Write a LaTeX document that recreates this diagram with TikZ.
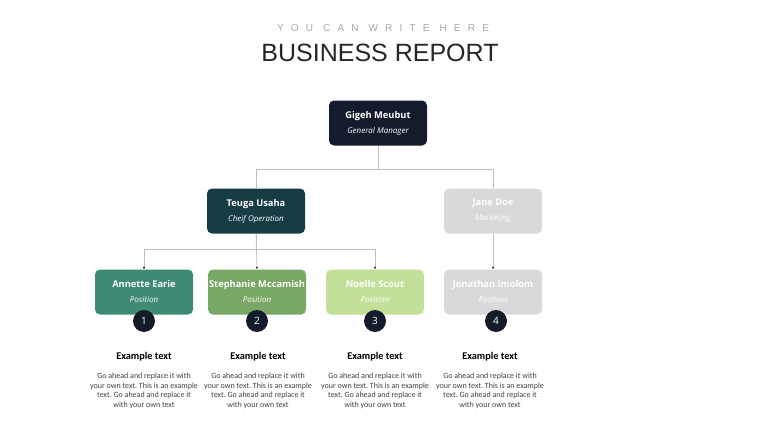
\documentclass[tikz,border=0pt]{standalone}
\usepackage{fontspec}
\setmainfont{Open Sans}
\newfontfamily\titlefont{Liberation Sans}
\newfontfamily\spacedfont[LetterSpace=72]{Liberation Sans}
\newfontfamily\bodyfont{Carlito}
\usepackage{xcolor}
\usetikzlibrary{positioning, arrows.meta}
\definecolor{navy}{HTML}{141B2B}
\definecolor{teal}{HTML}{163C44}
\definecolor{seagreen}{HTML}{3F8A75}
\definecolor{olive}{HTML}{78A766}
\definecolor{lime}{HTML}{C3E09A}
\definecolor{softgray}{HTML}{D9D9D9}
\definecolor{linegray}{HTML}{BFBFBF}
\definecolor{bodygray}{HTML}{404040}
\frenchspacing

\begin{document}
\begin{tikzpicture}[x=1pt, y=-1pt,
  box/.style={rounded corners=5pt, minimum width=98pt, minimum height=45pt, align=center, text=white, inner sep=0pt, font=\fontsize{9.3}{15}\selectfont},
  num/.style={circle, fill=navy, minimum size=22pt, inner sep=0pt, text=white, font=\fontsize{10}{12}\selectfont},
  link/.style={draw=linegray, line width=0.7pt},
  arrow/.style={link, -{Latex[length=2.5pt, width=2.5pt, color=navy]}},
  head/.style={font=\bodyfont\bfseries\fontsize{10.3}{12}\selectfont},
  desc/.style={font=\bodyfont\fontsize{8}{9.6}\selectfont, align=center, text=bodygray}
]
\useasboundingbox (0,0) rectangle (760,428);
% title
\node[text=gray!70, font=\spacedfont\fontsize{10}{12}\selectfont] (sub) at (383,28) {YOU CAN WRITE HERE};
\node[text=black!85, font=\titlefont\fontsize{25}{30}\selectfont] (title) at (380,53) {BUSINESS REPORT};
% boxes
\node[box, fill=navy] (gm) at (378,123) {\textbf{Gigeh Meubut}\\{\itshape\fontsize{8}{10}\selectfont General Manager}};
\node[box, fill=teal] (teuga) at (256,211) {\textbf{Teuga Usaha}\\{\itshape\fontsize{8}{10}\selectfont Cheif Operation}};
\node[box, fill=softgray] (jane) at (493,211) {\textbf{Jane Doe}\\{\itshape\fontsize{8}{10}\selectfont Marketing}};
\node[box, fill=seagreen] (annette) at (144,292) {\textbf{Annette Earie}\\{\itshape\fontsize{8}{10}\selectfont Position}};
\node[box, fill=olive] (stephanie) at (257,292) {\textbf{Stephanie Mccamish}\\{\itshape\fontsize{8}{10}\selectfont Position}};
\node[box, fill=lime] (noelle) at (375,292) {\textbf{Noelle Scout}\\{\itshape\fontsize{8}{10}\selectfont Position}};
\node[box, fill=softgray] (jonathan) at (493,292) {\textbf{Jonathan Imolom}\\{\itshape\fontsize{8}{10}\selectfont Position}};
% connectors
\draw[link] (gm.south) -- ++(0,24) -| (teuga.north);
\draw[link] (gm.south) -- ++(0,24) -| (jane.north);
\draw[arrow] (teuga.south) -- ++(0,16) -| (annette.north);
\draw[arrow] (teuga.south) -- (stephanie.north);
\draw[arrow] (teuga.south) -- ++(0,16) -| (noelle.north);
\draw[arrow] (jane.south) -- (jonathan.north);
% numbers
\node[num] (n1) at (144,321) {1};
\node[num] (n2) at (257,321) {2};
\node[num] (n3) at (375,321) {3};
\node[num] (n4) at (496,321) {4};
% descriptions
\node[head] (h1) at (144,357) {Example text};
\node[head] (h2) at (258,357) {Example text};
\node[head] (h3) at (375,357) {Example text};
\node[head] (h4) at (490,357) {Example text};
\node[desc] (d1) at (144,391) {Go ahead and replace it with\\your own text. This is an example\\text. Go ahead and replace it\\with your own text};
\node[desc] (d2) at (258,391) {Go ahead and replace it with\\your own text. This is an example\\text. Go ahead and replace it\\with your own text};
\node[desc] (d3) at (375,391) {Go ahead and replace it with\\your own text. This is an example\\text. Go ahead and replace it\\with your own text};
\node[desc] (d4) at (490,391) {Go ahead and replace it with\\your own text. This is an example\\text. Go ahead and replace it\\with your own text};
\end{tikzpicture}
\end{document}
